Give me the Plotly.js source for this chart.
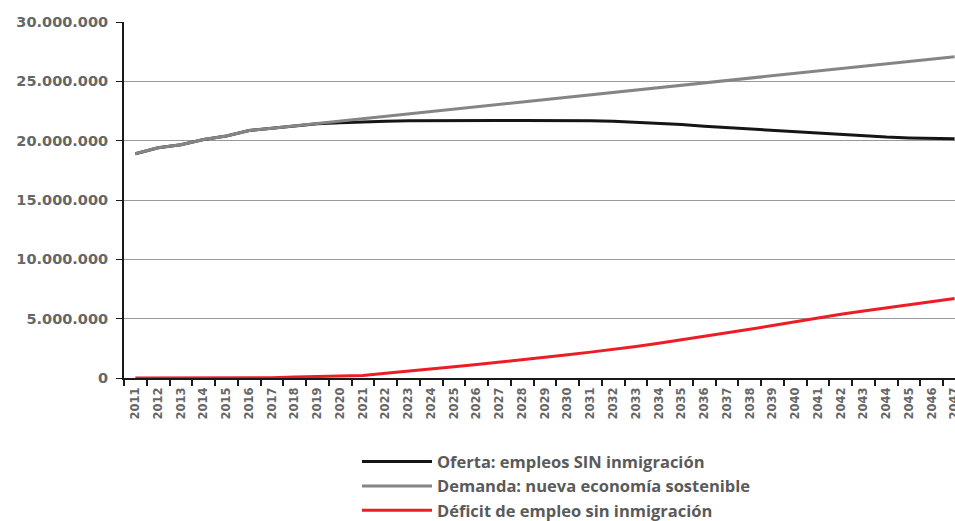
<!DOCTYPE html>
<html>
<head>
<meta charset="utf-8">
<script src="https://cdn.plot.ly/plotly-3.0.1.min.js"></script>
<style>
html, body { margin: 0; padding: 0; overflow: hidden; background: #fff; }
#chart { width: 966px; height: 545px; }
</style>
</head>
<body>
<div id="chart"></div>
<script>
const years = ["2011","2012","2013","2014","2015","2016","2017","2018","2019","2020",
  "2021","2022","2023","2024","2025","2026","2027","2028","2029","2030",
  "2031","2032","2033","2034","2035","2036","2037","2038","2039","2040",
  "2041","2042","2043","2044","2045","2046","2047"];

// values in millions of jobs
const ofertaM = [18.9,19.4,19.65,20.1,20.4,20.85,21.05,21.25,21.42,21.52,
  21.6,21.64,21.67,21.69,21.7,21.7,21.7,21.7,21.7,21.7,
  21.68,21.63,21.55,21.47,21.36,21.22,21.1,20.98,20.87,20.76,
  20.63,20.5,20.4,20.3,20.23,20.2,20.17];

const demandaM = [18.9,19.4,19.65,20.1,20.4,20.85,21.05,21.25,21.45,21.65,
  21.85,22.05,22.25,22.45,22.65,22.85,23.05,23.25,23.45,23.65,
  23.85,24.05,24.25,24.45,24.67,24.88,25.08,25.28,25.48,25.68,
  25.88,26.08,26.28,26.48,26.68,26.88,27.08];

const deficitM = [0,0,0,0,0,0,0.02,0.08,0.13,0.18,
  0.22,0.4,0.6,0.78,0.95,1.13,1.32,1.52,1.72,1.95,
  2.18,2.4,2.65,2.92,3.2,3.48,3.8,4.1,4.42,4.75,
  5.07,5.37,5.65,5.9,6.15,6.42,6.7];

const seriesNames = ["Oferta: empleos SIN inmigración",
  "Demanda: nueva economía sostenible",
  "Déficit de empleo sin inmigración"];

const yTicks = [0, 5, 10, 15, 20, 25, 30];

const toUnits = a => a.map(v => v * 1e6);

const traces = [
  {x: years, y: toUnits(ofertaM), name: seriesNames[0], legendgroup: "a",
   type: "scatter", mode: "lines", line: {color: "#151515", width: 3}},
  {x: years, y: toUnits(demandaM), name: seriesNames[1], legendgroup: "b",
   type: "scatter", mode: "lines", line: {color: "#858585", width: 3}},
  {x: years, y: toUnits(deficitM), name: seriesNames[2], legendgroup: "c",
   type: "scatter", mode: "lines", line: {color: "#ee1c25", width: 3}}
];

const layout = {
  width: 966, height: 545,
  margin: {l: 124, r: 0, t: 22, b: 167},
  paper_bgcolor: "#fff", plot_bgcolor: "#fff",
  separators: ",.",
  showlegend: true,
  legend: {
    x: 0.2767, y: -0.186, xanchor: "left", yanchor: "top",
    orientation: "v",
    itemwidth: 70,
    tracegroupgap: 0,
    font: {family: "Open Sans", size: 16.5, color: "#5a5a5a", weight: 700},
    bgcolor: "rgba(0,0,0,0)"
  },
  xaxis: {
    type: "category",
    range: [-0.5, 36.5],
    showline: true, linecolor: "#1a1a1a", linewidth: 2,
    showgrid: false, zeroline: false,
    ticks: "outside", ticklen: 6, tickcolor: "#1a1a1a", tickwidth: 2,
    tickson: "boundaries",
    tickangle: -90,
    ticklabelstandoff: 3,
    tickfont: {family: "DejaVu Sans", size: 11.5, color: "#666", weight: 700}
  },
  yaxis: {
    range: [0, 30000000],
    tickvals: yTicks.map(v => v * 1e6),
    tickformat: ",d",
    showline: true, linecolor: "#1a1a1a", linewidth: 2,
    showgrid: true, gridcolor: "#9a9a9a", gridwidth: 1,
    zeroline: false,
    ticks: "outside", ticklen: 6, tickcolor: "#1a1a1a", tickwidth: 1,
    ticklabelstandoff: 5,
    tickfont: {family: "DejaVu Sans", size: 14.5, color: "#666", weight: 700}
  }
};

Plotly.newPlot("chart", traces, layout, {displayModeBar: false, staticPlot: true});
</script>
</body>
</html>
